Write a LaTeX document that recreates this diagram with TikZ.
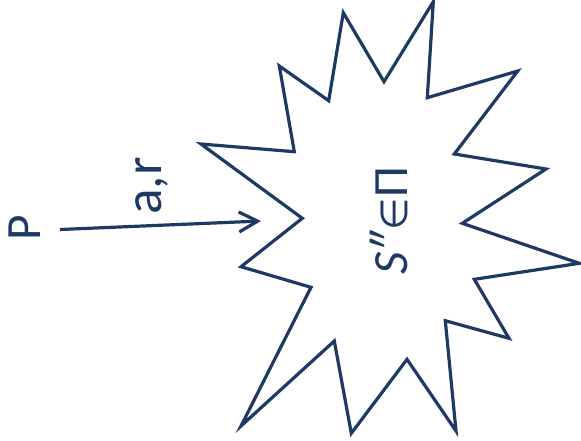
\documentclass[tikz,border=0pt]{standalone}
\usepackage{fontspec}
\setmainfont{Carlito}
\newfontfamily\symfont{DejaVu Sans}
\usetikzlibrary{arrows.meta}
\definecolor{navy}{RGB}{30,58,100}
\begin{document}
\begin{tikzpicture}[x=0.75pt,y=-0.75pt,
  ln/.style={draw=navy,line width=2.4pt,line join=miter},
  lbl/.style={text=navy,rotate=90,inner sep=0pt,anchor=center}]
\useasboundingbox (0,0) rectangle (581,440);
\draw[ln] (433.3,1.7) -- (427.3,97.7) -- (517.7,71) -- (454.3,154) -- (546,169)
  -- (462.3,223.3) -- (579.3,263.3) -- (474.3,279.3) -- (509,338.3) -- (445.3,320.7)
  -- (456,431) -- (407,359.3) -- (351.3,433.3) -- (334.3,341) -- (241,426)
  -- (311,287.3) -- (241,266.7) -- (302.3,218.3) -- (201,144) -- (294.3,151.7)
  -- (279.3,66) -- (328.7,100.7) -- (343.3,12.7) -- (384,81.7) -- cycle;
\node[lbl,font=\fontsize{37}{40}\selectfont] (P) at (24.5,228) {P};
\node[lbl,font=\fontsize{40}{44}\selectfont] (ar) at (152,186) {a,r};
\node[lbl,font=\fontsize{37}{40}\selectfont] (S) at (389,221)
  {\textit{S″}{\symfont\fontsize{28}{31}\selectfont ∈}Π};
\coordinate (a1) at (60,229.5);
\coordinate (a2) at (261,221);
\draw[ln,-{Straight Barb[length=14pt,width=15pt,line width=2.4pt]}] (a1) -- (a2);
\end{tikzpicture}
\end{document}
